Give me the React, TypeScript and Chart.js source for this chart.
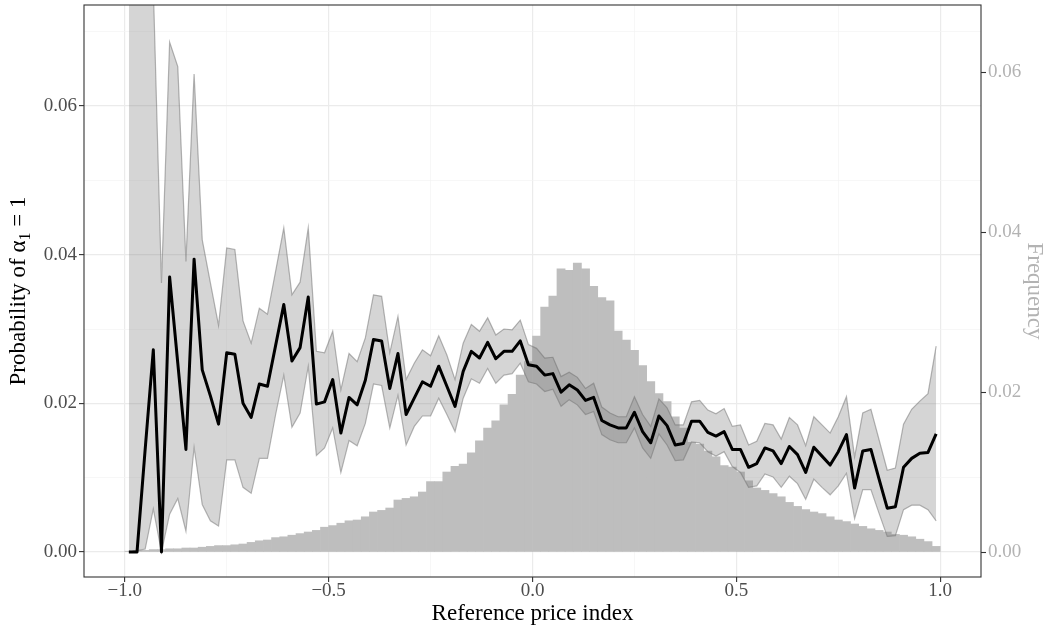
import React, { useEffect, useRef } from 'react';
import { Chart, registerables } from 'chart.js';

Chart.register(...registerables);

// Bin centres of the reference price index (bin width 0.02)
const binCenters = [
  -0.99, -0.97, -0.95, -0.93, -0.91, -0.89, -0.87, -0.85, -0.83, -0.81,
  -0.79, -0.77, -0.75, -0.73, -0.71, -0.69, -0.67, -0.65, -0.63, -0.61,
  -0.59, -0.57, -0.55, -0.53, -0.51, -0.49, -0.47, -0.45, -0.43, -0.41,
  -0.39, -0.37, -0.35, -0.33, -0.31, -0.29, -0.27, -0.25, -0.23, -0.21,
  -0.19, -0.17, -0.15, -0.13, -0.11, -0.09, -0.07, -0.05, -0.03, -0.01,
  0.01, 0.03, 0.05, 0.07, 0.09, 0.11, 0.13, 0.15, 0.17, 0.19,
  0.21, 0.23, 0.25, 0.27, 0.29, 0.31, 0.33, 0.35, 0.37, 0.39,
  0.41, 0.43, 0.45, 0.47, 0.49, 0.51, 0.53, 0.55, 0.57, 0.59,
  0.61, 0.63, 0.65, 0.67, 0.69, 0.71, 0.73, 0.75, 0.77, 0.79,
  0.81, 0.83, 0.85, 0.87, 0.89, 0.91, 0.93, 0.95, 0.97, 0.99,
];

// Probability of alpha_1 = 1 (black line)
const probability = [
  0, 0, 0.0138, 0.0272, 0, 0.0370, 0.0254, 0.0138, 0.0394, 0.0245,
  0.0210, 0.0172, 0.0268, 0.0266, 0.0200, 0.0181, 0.0226, 0.0223, 0.0278, 0.0333,
  0.0257, 0.0275, 0.0343, 0.0199, 0.0202, 0.0232, 0.0160, 0.0208, 0.0198, 0.0231,
  0.0286, 0.0284, 0.0220, 0.0267, 0.0185, 0.0207, 0.0229, 0.0223, 0.0250, 0.0223,
  0.0196, 0.0243, 0.0270, 0.0261, 0.0282, 0.0260, 0.0270, 0.0270, 0.0284, 0.0252,
  0.0250, 0.0238, 0.0240, 0.0215, 0.0225, 0.0218, 0.0204, 0.0208, 0.0177, 0.0171,
  0.0167, 0.0167, 0.0188, 0.0162, 0.0147, 0.0183, 0.0170, 0.0144, 0.0146, 0.0176,
  0.0176, 0.0161, 0.0156, 0.0162, 0.0138, 0.0138, 0.0114, 0.0119, 0.0140, 0.0136,
  0.0119, 0.0142, 0.0131, 0.0107, 0.0141, 0.0129, 0.0117, 0.0135, 0.0158, 0.0086,
  0.0136, 0.0138, 0.0098, 0.0059, 0.0061, 0.0114, 0.0126, 0.0133, 0.0134, 0.0159,
];

// Upper bound of the confidence band
const upperBound = [
  0.12, 0.11, 0.095, 0.076, 0.0362, 0.0686, 0.0653, 0.0391, 0.0643, 0.0420,
  0.0362, 0.0305, 0.0409, 0.0407, 0.0311, 0.0281, 0.0328, 0.0320, 0.0378, 0.0436,
  0.0346, 0.0363, 0.0436, 0.0270, 0.0268, 0.0297, 0.0218, 0.0267, 0.0256, 0.0288,
  0.0346, 0.0344, 0.0268, 0.0317, 0.0232, 0.0254, 0.0272, 0.0264, 0.0291, 0.0265,
  0.0232, 0.0281, 0.0306, 0.0297, 0.0315, 0.0292, 0.0300, 0.0299, 0.0312, 0.0279,
  0.0274, 0.0261, 0.0262, 0.0236, 0.0242, 0.0235, 0.0220, 0.0227, 0.0195, 0.0187,
  0.0182, 0.0182, 0.0209, 0.0185, 0.0169, 0.0206, 0.0194, 0.0171, 0.0171, 0.0202,
  0.0204, 0.0191, 0.0186, 0.0193, 0.0169, 0.0171, 0.0144, 0.0149, 0.0173, 0.0171,
  0.0152, 0.0181, 0.0171, 0.0143, 0.0182, 0.0171, 0.0160, 0.0182, 0.0209, 0.0128,
  0.0187, 0.0192, 0.0151, 0.0110, 0.0113, 0.0172, 0.0192, 0.0203, 0.0213, 0.0277,
];

// Lower bound of the confidence band
const lowerBound = [
  0, 0.0002, 0.0004, 0.0058, 0, 0.0051, 0.0072, 0.0028, 0.0141, 0.0064,
  0.0042, 0.0035, 0.0124, 0.0124, 0.0087, 0.0079, 0.0126, 0.0126, 0.0185, 0.0238,
  0.0168, 0.0187, 0.0250, 0.0130, 0.0140, 0.0167, 0.0107, 0.0150, 0.0143, 0.0173,
  0.0226, 0.0224, 0.0167, 0.0211, 0.0144, 0.0169, 0.0183, 0.0183, 0.0207, 0.0185,
  0.0162, 0.0207, 0.0233, 0.0227, 0.0247, 0.0227, 0.0238, 0.0240, 0.0254, 0.0229,
  0.0226, 0.0216, 0.0219, 0.0196, 0.0205, 0.0198, 0.0185, 0.0189, 0.0158, 0.0151,
  0.0147, 0.0147, 0.0167, 0.0140, 0.0126, 0.0159, 0.0144, 0.0123, 0.0124, 0.0148,
  0.0147, 0.0135, 0.0129, 0.0135, 0.0115, 0.0107, 0.0087, 0.0089, 0.0105, 0.0101,
  0.0087, 0.0102, 0.0092, 0.0071, 0.0098, 0.0087, 0.0077, 0.0089, 0.0106, 0.0045,
  0.0084, 0.0084, 0.0052, 0.0021, 0.0022, 0.0057, 0.0063, 0.0063, 0.0057, 0.0042,
];

// Histogram frequency (right axis)
const frequency = [
  0.0001, 0.0002, 0.0002, 0.0003, 0.0003, 0.0004, 0.0004, 0.0005, 0.0005, 0.0006,
  0.0007, 0.0008, 0.0008, 0.0009, 0.0010, 0.0012, 0.0014, 0.0015, 0.0018, 0.0019,
  0.0021, 0.0023, 0.0025, 0.0027, 0.0031, 0.0033, 0.0036, 0.0039, 0.0040, 0.0044,
  0.0050, 0.0052, 0.0055, 0.0065, 0.0067, 0.0069, 0.0075, 0.0088, 0.0088, 0.0100,
  0.0107, 0.0110, 0.0124, 0.0139, 0.0155, 0.0164, 0.0184, 0.0197, 0.0221, 0.0238,
  0.0270, 0.0306, 0.0320, 0.0354, 0.0352, 0.0361, 0.0354, 0.0332, 0.0318, 0.0314,
  0.0276, 0.0265, 0.0252, 0.0233, 0.0213, 0.0198, 0.0188, 0.0169, 0.0155, 0.0137,
  0.0135, 0.0126, 0.0119, 0.0108, 0.0106, 0.0100, 0.0089, 0.0080, 0.0077, 0.0073,
  0.0069, 0.0062, 0.0057, 0.0053, 0.0050, 0.0048, 0.0044, 0.0040, 0.0038, 0.0035,
  0.0032, 0.0029, 0.0027, 0.0025, 0.0022, 0.0021, 0.0019, 0.0016, 0.0013, 0.0007,
];

// Axis ticks (majors labelled, minors only gridlines)
const xTicks = [-1, -0.75, -0.5, -0.25, 0, 0.25, 0.5, 0.75, 1];
const xMajorTicks = [-1, -0.5, 0, 0.5, 1];
const xTickLabels = ['\u22121.0', '\u22120.5', '0.0', '0.5', '1.0'];
const yTicks = [0, 0.01, 0.02, 0.03, 0.04, 0.05, 0.06, 0.07];
const yMajorTicks = [0, 0.02, 0.04, 0.06];
const yTickLabels = ['0.00', '0.02', '0.04', '0.06'];
const y2Ticks = [0, 0.02, 0.04, 0.06];
const y2TickLabels = ['0.00', '0.02', '0.04', '0.06'];

const FONT = "'Liberation Serif', 'Times New Roman', serif";

const near = (a: number, b: number) => Math.abs(a - b) < 1e-9;
const majorIndex = (list: number[], v: number) => list.findIndex((m) => near(m, v));

const zeroPad = (s: any) => {
  s.paddingTop = 0;
  s.paddingBottom = 0;
  s.paddingLeft = 0;
  s.paddingRight = 0;
};

const decorPlugin = {
  id: 'decor',
  afterDatasetsDraw(chart: any) {
    const { ctx, chartArea: a } = chart;
    ctx.save();
    ctx.strokeStyle = '#333333';
    ctx.lineWidth = 1.1;
    ctx.strokeRect(a.left, a.top, a.right - a.left, a.bottom - a.top);
    ctx.restore();
  },
  afterDraw(chart: any) {
    const { ctx, chartArea: a } = chart;
    const cy = (a.top + a.bottom) / 2;
    const cx = (a.left + a.right) / 2;
    ctx.save();
    ctx.textBaseline = 'alphabetic';
    ctx.textAlign = 'left';

    // x title
    ctx.fillStyle = '#000000';
    ctx.font = `23px ${FONT}`;
    const xt = 'Reference price index';
    const xw = ctx.measureText(xt).width;
    ctx.fillText(xt, cx - xw / 2, 620);

    // left y title with subscript
    ctx.save();
    ctx.translate(25, cy);
    ctx.rotate(-Math.PI / 2);
    const p1 = 'Probability of \u03b1';
    const p2 = '1';
    const p3 = ' = 1';
    ctx.font = `23px ${FONT}`;
    const w1 = ctx.measureText(p1).width;
    const w3 = ctx.measureText(p3).width;
    ctx.font = `16px ${FONT}`;
    const w2 = ctx.measureText(p2).width;
    const total = w1 + w2 + w3;
    let x = -total / 2;
    ctx.font = `23px ${FONT}`;
    ctx.fillText(p1, x, 0);
    x += w1;
    ctx.font = `16px ${FONT}`;
    ctx.fillText(p2, x, 5);
    x += w2;
    ctx.font = `23px ${FONT}`;
    ctx.fillText(p3, x, 0);
    ctx.restore();

    // right y title
    ctx.save();
    ctx.translate(1028, cy);
    ctx.rotate(Math.PI / 2);
    ctx.fillStyle = '#b3b3b3';
    ctx.font = `23px ${FONT}`;
    const rt = 'Frequency';
    const rw = ctx.measureText(rt).width;
    ctx.fillText(rt, -rw / 2, 0);
    ctx.restore();

    ctx.restore();
  },
};

export default function App() {
  const ref = useRef<HTMLCanvasElement>(null);

  useEffect(() => {
    document.body.style.margin = '0';
    const pts = (vals: number[]) => binCenters.map((x, i) => ({ x, y: vals[i] }));

    const chart = new Chart(ref.current as HTMLCanvasElement, {
      type: 'bar',
      data: {
        datasets: [
          {
            type: 'line',
            label: 'Probability',
            data: pts(probability),
            yAxisID: 'y',
            borderColor: '#000000',
            borderWidth: 3,
            pointRadius: 0,
            tension: 0,
            fill: false,
            borderJoinStyle: 'round',
            borderCapStyle: 'butt',
            order: 0,
          } as any,
          {
            type: 'line',
            label: 'Lower',
            data: pts(lowerBound),
            yAxisID: 'y',
            borderColor: 'rgba(110,110,110,0.5)',
            borderWidth: 1.2,
            pointRadius: 0,
            tension: 0,
            fill: false,
            order: 2,
          } as any,
          {
            type: 'line',
            label: 'Upper',
            data: pts(upperBound),
            yAxisID: 'y',
            borderColor: 'rgba(110,110,110,0.5)',
            borderWidth: 1.2,
            pointRadius: 0,
            tension: 0,
            fill: '-1',
            backgroundColor: 'rgba(127,127,127,0.33)',
            order: 1,
          } as any,
          {
            type: 'bar',
            label: 'Frequency',
            data: pts(frequency),
            yAxisID: 'y2',
            backgroundColor: '#bebebe',
            borderWidth: 0,
            barPercentage: 1,
            categoryPercentage: 1,
            grouped: false,
            order: 3,
          } as any,
        ],
      },
      options: {
        animation: false,
        responsive: false,
        devicePixelRatio: 1,
        layout: { padding: { top: 5, left: 0, right: 0, bottom: 0 } },
        plugins: {
          legend: { display: false },
          tooltip: { enabled: false },
          filler: { propagate: false },
        },
        scales: {
          x: {
            type: 'linear',
            position: 'bottom',
            min: -1.1,
            max: 1.1,
            offset: false,
            afterBuildTicks: (s: any) => {
              s.ticks = xTicks.map((v) => ({ value: v }));
            },
            afterFit: (s: any) => {
              s.height = 54;
              zeroPad(s);
            },
            ticks: {
              autoSkip: false,
              maxRotation: 0,
              minRotation: 0,
              padding: -2,
              color: '#4d4d4d',
              font: { family: FONT, size: 19 },
              callback: (v: any) => {
                const k = majorIndex(xMajorTicks, Number(v));
                return k >= 0 ? xTickLabels[k] : '';
              },
            },
            grid: {
              offset: false,
              color: (c: any) => (c.tick && majorIndex(xMajorTicks, c.tick.value) >= 0 ? '#ebebeb' : '#f3f3f3'),
              lineWidth: (c: any) => (c.tick && majorIndex(xMajorTicks, c.tick.value) >= 0 ? 1.2 : 0.7),
              tickColor: (c: any) => (c.tick && majorIndex(xMajorTicks, c.tick.value) >= 0 ? '#333333' : 'rgba(0,0,0,0)'),
              tickLength: 5,
              tickWidth: 1.1,
            },
            border: { display: false },
          },
          y: {
            type: 'linear',
            position: 'left',
            min: -0.00336,
            max: 0.07359,
            afterBuildTicks: (s: any) => {
              s.ticks = yTicks.map((v) => ({ value: v }));
            },
            afterFit: (s: any) => {
              s.width = 84;
              zeroPad(s);
            },
            ticks: {
              autoSkip: false,
              padding: 2,
              color: '#4d4d4d',
              font: { family: FONT, size: 19 },
              callback: (v: any) => {
                const k = majorIndex(yMajorTicks, Number(v));
                return k >= 0 ? yTickLabels[k] : '';
              },
            },
            grid: {
              color: (c: any) => (c.tick && majorIndex(yMajorTicks, c.tick.value) >= 0 ? '#ebebeb' : '#f3f3f3'),
              lineWidth: (c: any) => (c.tick && majorIndex(yMajorTicks, c.tick.value) >= 0 ? 1.2 : 0.7),
              tickColor: (c: any) => (c.tick && majorIndex(yMajorTicks, c.tick.value) >= 0 ? '#333333' : 'rgba(0,0,0,0)'),
              tickLength: 5,
              tickWidth: 1.1,
            },
            border: { display: false },
          },
          y2: {
            type: 'linear',
            position: 'right',
            min: -0.003125,
            max: 0.068375,
            afterBuildTicks: (s: any) => {
              s.ticks = y2Ticks.map((v) => ({ value: v }));
            },
            afterFit: (s: any) => {
              s.width = 66;
              zeroPad(s);
            },
            ticks: {
              autoSkip: false,
              padding: 2,
              color: '#b3b3b3',
              font: { family: FONT, size: 19 },
              callback: (v: any) => {
                const k = majorIndex(y2Ticks, Number(v));
                return k >= 0 ? y2TickLabels[k] : '';
              },
            },
            grid: {
              drawOnChartArea: false,
              tickColor: '#333333',
              tickLength: 5,
              tickWidth: 1.1,
            },
            border: { display: false },
          },
        },
      } as any,
      plugins: [decorPlugin],
    });

    return () => chart.destroy();
  }, []);

  return (
    <div style={{ width: 1047, height: 631, background: '#ffffff' }}>
      <canvas ref={ref} width={1047} height={631} style={{ display: 'block', width: 1047, height: 631 }} />
    </div>
  );
}
